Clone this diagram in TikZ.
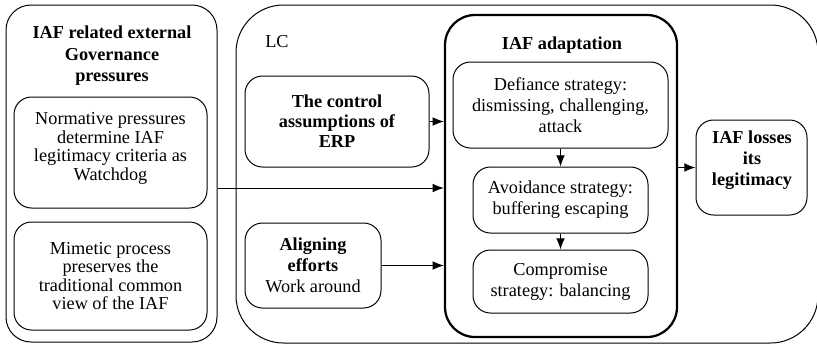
\documentclass[tikz,border=0pt]{standalone}
\usepackage{fontspec}
\setmainfont{Liberation Serif}
\usetikzlibrary{shapes,arrows.meta,positioning,calc}

\begin{document}
\begin{tikzpicture}[x=0.8pt,y=-0.8pt,
    box/.style={draw, line width=0.8pt, rounded corners=14pt, align=center,
      inner sep=2pt, font=\fontsize{14.6}{16.8}\selectfont},
    govbox/.style={box, font=\fontsize{14.6}{14.8}\selectfont},
    frame/.style={draw, line width=0.8pt, rounded corners=20pt},
    arr/.style={-{Latex[length=9pt,width=7pt]}, line width=0.8pt}]
    \useasboundingbox (0,0) rectangle (817,346);
    % left block: external pressures
    \node[frame, minimum width=168.8pt, minimum height=269.6pt] (gov) at (111.5,173.5) {};
    \node[align=center, font=\bfseries\fontsize{14.6}{17.2}\selectfont] (govtitle) at (112,56)
        {IAF related external\\Governance\\pressures};
    \node[govbox, minimum width=154.4pt, minimum height=88.8pt] (norm) at (110.5,152.5)
        {Normative pressures\\determine IAF\\legitimacy criteria as\\Watchdog\\[-5pt]};
    \node[govbox, minimum width=154.4pt, minimum height=86.4pt] (mim) at (110.5,276)
        {Mimetic process\\preserves the\\traditional common\\view of the IAF};
    % LC block
    \node[frame, rounded corners=38pt, minimum width=465.6pt, minimum height=270.4pt] (lc) at (527,174) {};
    \node[font=\fontsize{14.6}{14.6}\selectfont] (lclabel) at (277,42) {LC};
    \node[box, minimum width=147.2pt, minimum height=72.8pt, font=\bfseries\fontsize{14.6}{16}\selectfont] (ctrl) at (337,121.5)
        {The control\\assumptions of\\ERP};
    \node[box, minimum width=108.8pt, minimum height=68pt] (align) at (313,265.5)
        {\textbf{Aligning}\\\textbf{efforts}\\Work around};
    % adaptation
    \node[frame, line width=1.8pt, rounded corners=24pt, minimum width=185.6pt, minimum height=257.6pt] (adapt) at (561,176) {};
    \node[font=\bfseries\fontsize{14.6}{14.6}\selectfont] (adapttitle) at (562,45) {IAF adaptation};
    \node[box, minimum width=172pt, minimum height=68.8pt] (defi) at (560.5,105)
        {Defiance strategy:\\dismissing, challenging,\\attack};
    \node[box, minimum width=140pt, minimum height=52.8pt] (avoid) at (560.5,200)
        {Avoidance strategy:\\buffering escaping};
    \node[box, minimum width=140pt, minimum height=50.4pt] (comp) at (560.5,281.5)
        {Compromise\\strategy: balancing};
    % result
    \node[box, minimum width=88.8pt, minimum height=76pt] (loss) at (751.5,167.5) {};
    \node[align=center, font=\bfseries\fontsize{14.6}{16.8}\selectfont] (losstext) at (752,160)
        {IAF losses\\its\\legitimacy};
    % arrows
    \draw[arr] (ctrl) -- (ctrl -| adapt.west);
    \draw[arr] ([yshift=-11.6pt]gov.east) -- ([yshift=-11.6pt]gov.east -| adapt.west);
    \draw[arr] (align) -- (align -| adapt.west);
    \draw[arr] (defi) -- (avoid);
    \draw[arr] (avoid) -- (comp);
    \draw[arr] (loss -| adapt.east) -- (loss);
\end{tikzpicture}
\end{document}
